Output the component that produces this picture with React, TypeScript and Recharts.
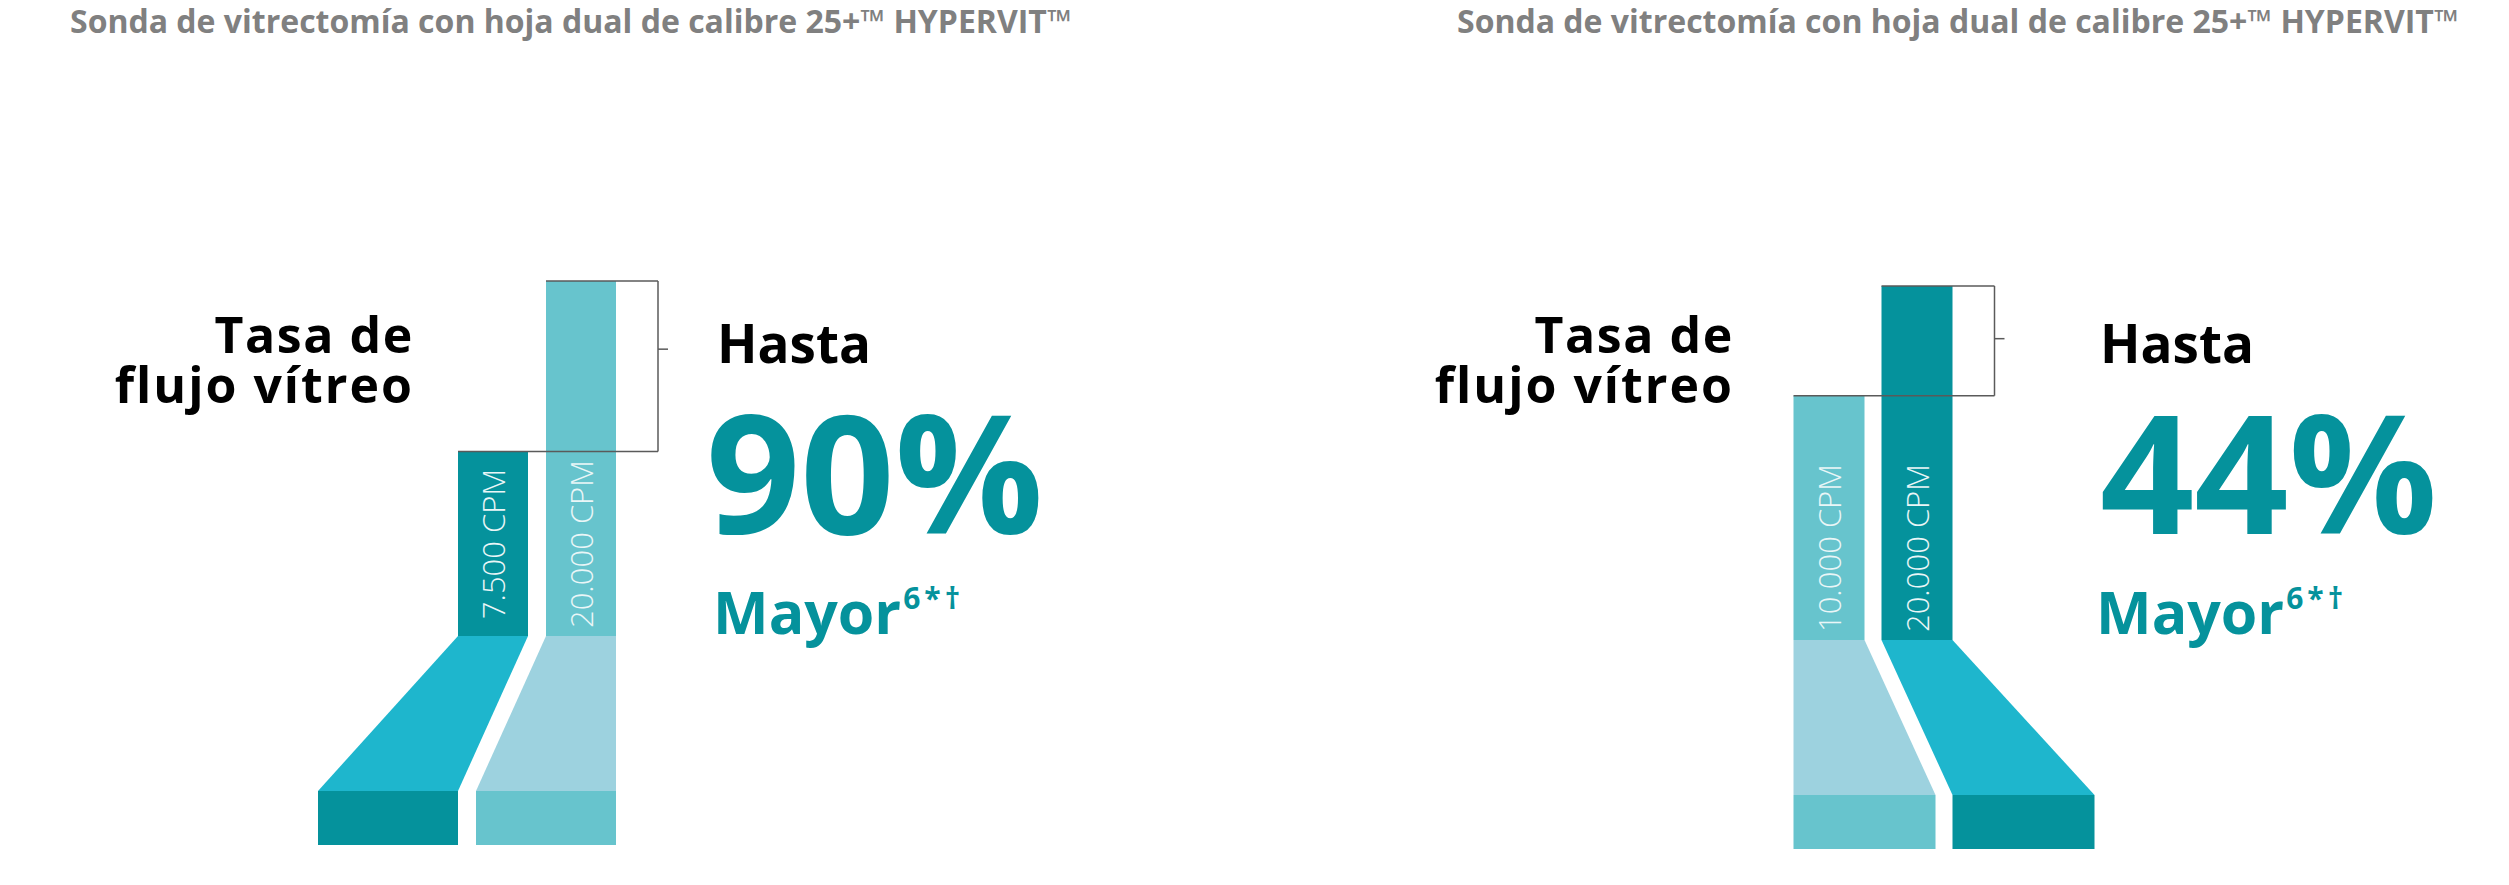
import React from 'react';
import { BarChart, Bar, XAxis, YAxis, LabelList } from 'recharts';

// ---- data ----
const titleText = 'Sonda de vitrectomía con hoja dual de calibre 25+™ HYPERVIT™';
const leftCategories = ['7.500 CPM', '20.000 CPM'];
const leftFlow = [52, 100]; // relative vitreous flow (20.000 CPM = 100)
const rightCategories = ['10.000 CPM', '20.000 CPM'];
const rightFlow = [69, 100];
const increaseLabels = ['90%', '44%'];
const metricLines = ['Tasa de', 'flujo vítreo'];
const leadWord = 'Hasta';
const compareWord = 'Mayor';
const footnoteMarks = '6*†';

const leftData = leftCategories.map((name, i) => ({ name, flow: leftFlow[i] }));
const rightData = rightCategories.map((name, i) => ({ name, flow: rightFlow[i] }));

// ---- styles ----
const FONT = '"Open Sans", "Noto Sans", sans-serif';
const TEAL = '#05929c';
const PALETTES: Record<string, { bar: string; funnel: string; block: string }> = {
  dark: { bar: '#05929c', funnel: '#1eb6cd', block: '#05929c' },
  light: { bar: '#67c4cd', funnel: '#9dd2df', block: '#67c4cd' },
};
const FUNNEL_H = 155;
const BLOCK_H = 54;

type PanelCfg = {
  flows: number[];
  styles: string[];
  funnel: number[][];
  step: number;
  tickFrac: number;
};

const leftCfg: PanelCfg = {
  flows: leftFlow,
  styles: ['dark', 'light'],
  funnel: [[-2, 0], [-1, 1]],
  step: 88,
  tickFrac: 0.4,
};
const rightCfg: PanelCfg = {
  flows: rightFlow,
  styles: ['light', 'dark'],
  funnel: [[0, 2], [1, 3]],
  step: 88,
  tickFrac: 0.48,
};

function makeShape(cfg: PanelCfg) {
  return (props: any) => {
    const { x, y, width, height, index } = props;
    const base = y + height;
    const pal = PALETTES[cfg.styles[index]];
    const [bl, br] = cfg.funnel[index];
    const bx0 = x + bl * width;
    const bx1 = x + br * width;
    const fb = base + FUNNEL_H;
    let bracket = null;
    if (index === 1) {
      const value = cfg.flows[1];
      const ppu = height / value;
      const otherTop = base - cfg.flows[0] * ppu;
      const otherX = x - cfg.step;
      const bx = x + width + 42;
      const ty = y + (otherTop - y) * cfg.tickFrac;
      bracket = (
        <g stroke="#5a5a5a" strokeWidth={1.5} fill="none">
          <line x1={x} y1={y} x2={bx} y2={y} />
          <line x1={bx} y1={y} x2={bx} y2={otherTop} />
          <line x1={otherX} y1={otherTop} x2={bx} y2={otherTop} />
          <line x1={bx} y1={ty} x2={bx + 10} y2={ty} />
        </g>
      );
    }
    return (
      <g>
        <rect x={x} y={y} width={width} height={height} fill={pal.bar} />
        <polygon
          points={`${x},${base} ${x + width},${base} ${bx1},${fb} ${bx0},${fb}`}
          fill={pal.funnel}
        />
        <rect x={bx0} y={fb} width={bx1 - bx0} height={BLOCK_H} fill={pal.block} />
        {bracket}
      </g>
    );
  };
}

const cpmLabel = (props: any) => {
  const { x, y, width, height, value } = props;
  const cx = x + width / 2;
  const cy = y + height - 92;
  return (
    <text
      x={cx}
      y={cy}
      transform={`rotate(-90 ${cx} ${cy})`}
      textAnchor="middle"
      dominantBaseline="central"
      fill="#eaf6f7"
      fontFamily={FONT}
      fontWeight={300}
      fontSize={31}
    >
      {value}
    </text>
  );
};

function Panel({ data, cfg, width, margin, barSize }: any) {
  return (
    <BarChart width={width} height={885} data={data} margin={margin}>
      <XAxis dataKey="name" hide />
      <YAxis hide domain={[0, 100]} />
      <Bar dataKey="flow" barSize={barSize} shape={makeShape(cfg)} isAnimationActive={false}>
        <LabelList dataKey="name" content={cpmLabel} />
      </Bar>
    </BarChart>
  );
}

function TextBlock({ metricRight, leftX, bigX, big }: { metricRight: number; leftX: number; bigX: number; big: string }) {
  return (
    <g fontFamily={FONT} fontWeight={700}>
      <text x={metricRight + 2} y={353} textAnchor="end" fontSize={50} letterSpacing={1.6} fill="#000">
        {metricLines[0]}
      </text>
      <text x={metricRight + 2} y={403} textAnchor="end" fontSize={50} letterSpacing={2} fill="#000">
        {metricLines[1]}
      </text>
      <text x={leftX + 4} y={363} fontSize={53} fill="#000">
        {leadWord}
      </text>
      <text x={bigX} y={534} fontSize={165} fill={TEAL}>
        {big}
      </text>
      <text x={leftX} y={634} fontSize={59} fill={TEAL}>
        {compareWord}
        <tspan fontSize={30} dy={-25} dx={2} letterSpacing={4}>{footnoteMarks}</tspan>
      </text>
    </g>
  );
}

export default function App() {
  return (
    <div style={{ position: 'absolute', left: 0, top: 0, width: 2509, height: 885, background: '#fff', overflow: 'hidden' }}>
      <div style={{ position: 'absolute', left: 0, top: 0 }}>
        <Panel
          data={leftData}
          cfg={leftCfg}
          width={1254}
          barSize={70}
          margin={{ top: 281, bottom: 249, left: 449, right: 629 }}
        />
      </div>
      <div style={{ position: 'absolute', left: 1254, top: 0 }}>
        <Panel
          data={rightData}
          cfg={rightCfg}
          width={1255}
          barSize={71}
          margin={{ top: 286, bottom: 245, left: 530.5, right: 548.5 }}
        />
      </div>
      <svg width={2509} height={885} style={{ position: 'absolute', left: 0, top: 0, pointerEvents: 'none' }}>
        <text x={70} y={33} fontFamily={FONT} fontWeight={700} fontSize={32} fill="#808080">
          {titleText}
        </text>
        <text x={1457} y={33} fontFamily={FONT} fontWeight={700} fontSize={32} fill="#808080">
          {titleText}
        </text>
        <TextBlock metricRight={412} leftX={713} bigX={706} big={increaseLabels[0]} />
        <TextBlock metricRight={1732} leftX={2096} bigX={2100} big={increaseLabels[1]} />
      </svg>
    </div>
  );
}
